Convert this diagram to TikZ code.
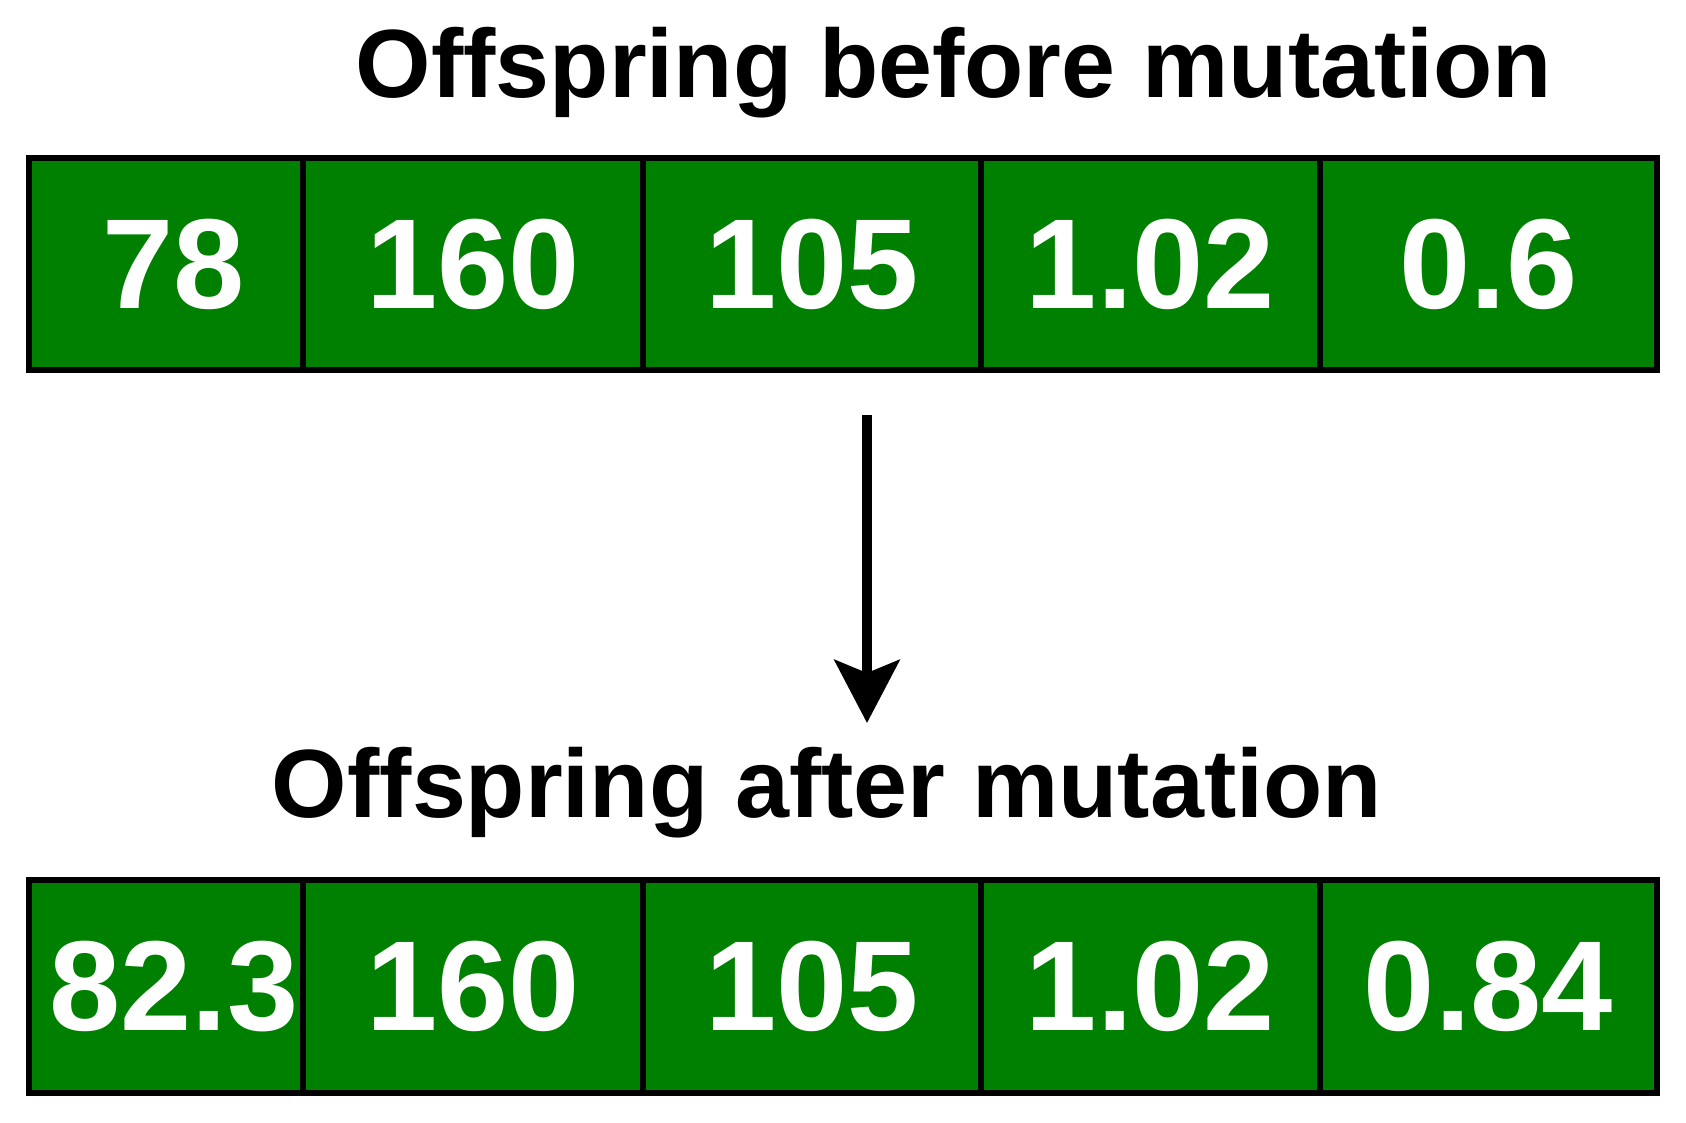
\documentclass[tikz,border=0pt]{standalone}
\usepackage{fontspec}
\setmainfont{Liberation Sans}
\usetikzlibrary{arrows.meta}
\definecolor{cellgreen}{HTML}{008000}
\begin{document}
\begin{tikzpicture}[x=1pt,y=1pt,
  cell/.style={draw=black, line width=6pt, fill=cellgreen, text=white,
    font=\fontsize{128}{128}\selectfont\bfseries, inner sep=0pt, outer sep=0pt},
  toprow/.style={cell, minimum height=212pt},
  botrow/.style={cell, minimum height=213pt},
  title/.style={font=\fontsize{97}{100}\selectfont\bfseries, inner sep=0pt, anchor=base},
  flow/.style={line width=10pt, -{Stealth[length=63pt, width=65pt, inset=13pt]}}]
\useasboundingbox (0,0) rectangle (1686,-1122);
\fill[white] (0,0) rectangle (1686,-1122);

\node[title] (t1) at (954,-97) {Offspring before mutation};
\node[title] (t2) at (827,-817) {Offspring after mutation};

\node[toprow, minimum width=274pt] (a1) at (166,-264) {\hspace{16pt}78};
\node[toprow, minimum width=340pt] (a2) at (473,-264) {160};
\node[toprow, minimum width=338pt] (a3) at (812,-264) {105};
\node[toprow, minimum width=339pt] (a4) at (1150.5,-264) {1.02};
\node[toprow, minimum width=337pt] (a5) at (1488.5,-264) {0.6};

\node[botrow, minimum width=274pt] (b1) at (166,-986.5) {\hspace{16pt}82.3};
\node[botrow, minimum width=340pt] (b2) at (473,-986.5) {160};
\node[botrow, minimum width=338pt] (b3) at (812,-986.5) {105};
\node[botrow, minimum width=339pt] (b4) at (1150.5,-986.5) {1.02};
\node[botrow, minimum width=337pt] (b5) at (1488.5,-986.5) {0.84};

\coordinate (arrowstart) at (867,-415);
\coordinate (arrowend) at (867,-723);
\draw[flow] (arrowstart) -- (arrowend);
\end{tikzpicture}
\end{document}
